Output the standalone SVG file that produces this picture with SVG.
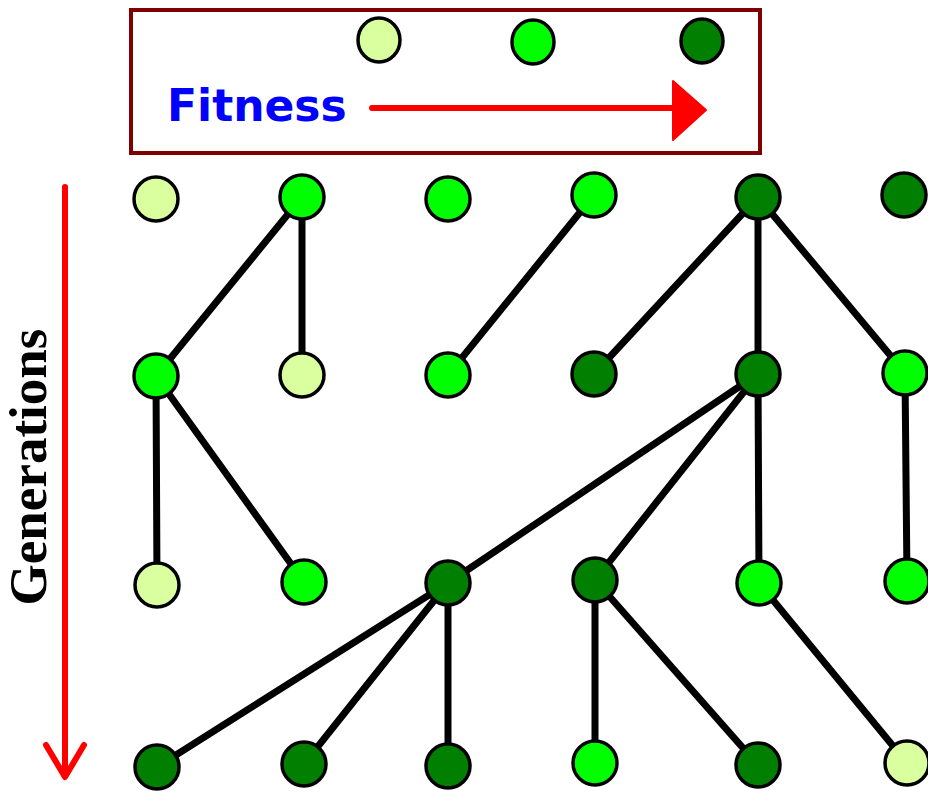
<svg xmlns="http://www.w3.org/2000/svg" width="928" height="791" viewBox="0 0 928 791">
  <style>
    .node { stroke: #000; stroke-width: 3.5; }
    .low { fill: #d9ff9f; }
    .mid { fill: #00ff00; }
    .high { fill: #007f00; }
    .edge { stroke: #000; stroke-width: 7; stroke-linecap: round; fill: none; }
    .red { stroke: #ff0000; stroke-width: 6; stroke-linecap: round; fill: none; }
  </style>
  <rect width="928" height="791" fill="#ffffff"/>

  <!-- legend -->
  <g id="legend">
    <rect x="131" y="10" width="629" height="143" fill="#ffffff" stroke="#800000" stroke-width="4"/>
    <ellipse class="node low" cx="379" cy="40" rx="21" ry="22"/>
    <ellipse class="node mid" cx="533" cy="42" rx="21" ry="22"/>
    <ellipse class="node high" cx="702" cy="41" rx="21" ry="22"/>
    <text x="167" y="121" font-family="DejaVu Sans, sans-serif" font-weight="bold" font-size="44" fill="#0000ff">Fitness</text>
    <line class="red" x1="372" y1="108" x2="680" y2="108"/>
    <polygon points="673,81 706,110 673,140" fill="#ff0000" stroke="#ff0000" stroke-width="2" stroke-linejoin="round"/>
  </g>

  <!-- generation axis -->
  <g id="axis">
    <line class="red" x1="65" y1="187" x2="65" y2="775"/>
    <polyline class="red" points="46,745 65,777 84,745" stroke-linejoin="round"/>
    <text transform="translate(46,467) rotate(-90)" text-anchor="middle" font-family="Liberation Serif, serif" font-weight="bold" font-size="53" fill="#000">Generations</text>
  </g>

  <!-- lineage links -->
  <g id="connectors">
    <line class="edge" x1="302" y1="197" x2="156" y2="376"/>
    <line class="edge" x1="302" y1="197" x2="302" y2="375"/>
    <line class="edge" x1="594" y1="195" x2="448" y2="375"/>
    <line class="edge" x1="758" y1="197" x2="594" y2="374"/>
    <line class="edge" x1="758" y1="197" x2="758" y2="374"/>
    <line class="edge" x1="758" y1="197" x2="905" y2="373"/>
    <line class="edge" x1="156" y1="376" x2="157" y2="585"/>
    <line class="edge" x1="156" y1="376" x2="304" y2="582"/>
    <line class="edge" x1="758" y1="374" x2="448" y2="583"/>
    <line class="edge" x1="758" y1="374" x2="595" y2="580"/>
    <line class="edge" x1="758" y1="374" x2="759" y2="583"/>
    <line class="edge" x1="905" y1="373" x2="907" y2="581"/>
    <line class="edge" x1="448" y1="583" x2="157" y2="767"/>
    <line class="edge" x1="448" y1="583" x2="304" y2="764"/>
    <line class="edge" x1="448" y1="583" x2="448" y2="766"/>
    <line class="edge" x1="595" y1="580" x2="595" y2="763"/>
    <line class="edge" x1="595" y1="580" x2="758" y2="765"/>
    <line class="edge" x1="759" y1="583" x2="907" y2="763"/>
  </g>

  <!-- generation 1 -->
  <g id="g1n1"><circle class="node low" cx="156" cy="199" r="22"/></g>
  <g id="g1n2"><circle class="node mid" cx="302" cy="197" r="22"/></g>
  <g id="g1n3"><circle class="node mid" cx="448" cy="199" r="22"/></g>
  <g id="g1n4"><circle class="node mid" cx="594" cy="195" r="22"/></g>
  <g id="g1n5"><circle class="node high" cx="758" cy="197" r="22"/></g>
  <g id="g1n6"><circle class="node high" cx="904" cy="195" r="22"/></g>

  <!-- generation 2 -->
  <g id="g2n1"><circle class="node mid" cx="156" cy="376" r="22"/></g>
  <g id="g2n2"><circle class="node low" cx="302" cy="375" r="22"/></g>
  <g id="g2n3"><circle class="node mid" cx="448" cy="375" r="22"/></g>
  <g id="g2n4"><circle class="node high" cx="594" cy="374" r="22"/></g>
  <g id="g2n5"><circle class="node high" cx="758" cy="374" r="22"/></g>
  <g id="g2n6"><circle class="node mid" cx="905" cy="373" r="22"/></g>

  <!-- generation 3 -->
  <g id="g3n1"><circle class="node low" cx="157" cy="585" r="22"/></g>
  <g id="g3n2"><circle class="node mid" cx="304" cy="582" r="22"/></g>
  <g id="g3n3"><circle class="node high" cx="448" cy="583" r="22"/></g>
  <g id="g3n4"><circle class="node high" cx="595" cy="580" r="22"/></g>
  <g id="g3n5"><circle class="node mid" cx="759" cy="583" r="22"/></g>
  <g id="g3n6"><circle class="node mid" cx="907" cy="581" r="22"/></g>

  <!-- generation 4 -->
  <g id="g4n1"><circle class="node high" cx="157" cy="767" r="22"/></g>
  <g id="g4n2"><circle class="node high" cx="304" cy="764" r="22"/></g>
  <g id="g4n3"><circle class="node high" cx="448" cy="766" r="22"/></g>
  <g id="g4n4"><circle class="node mid" cx="595" cy="763" r="22"/></g>
  <g id="g4n5"><circle class="node high" cx="758" cy="765" r="22"/></g>
  <g id="g4n6"><circle class="node low" cx="907" cy="763" r="22"/></g>
</svg>
